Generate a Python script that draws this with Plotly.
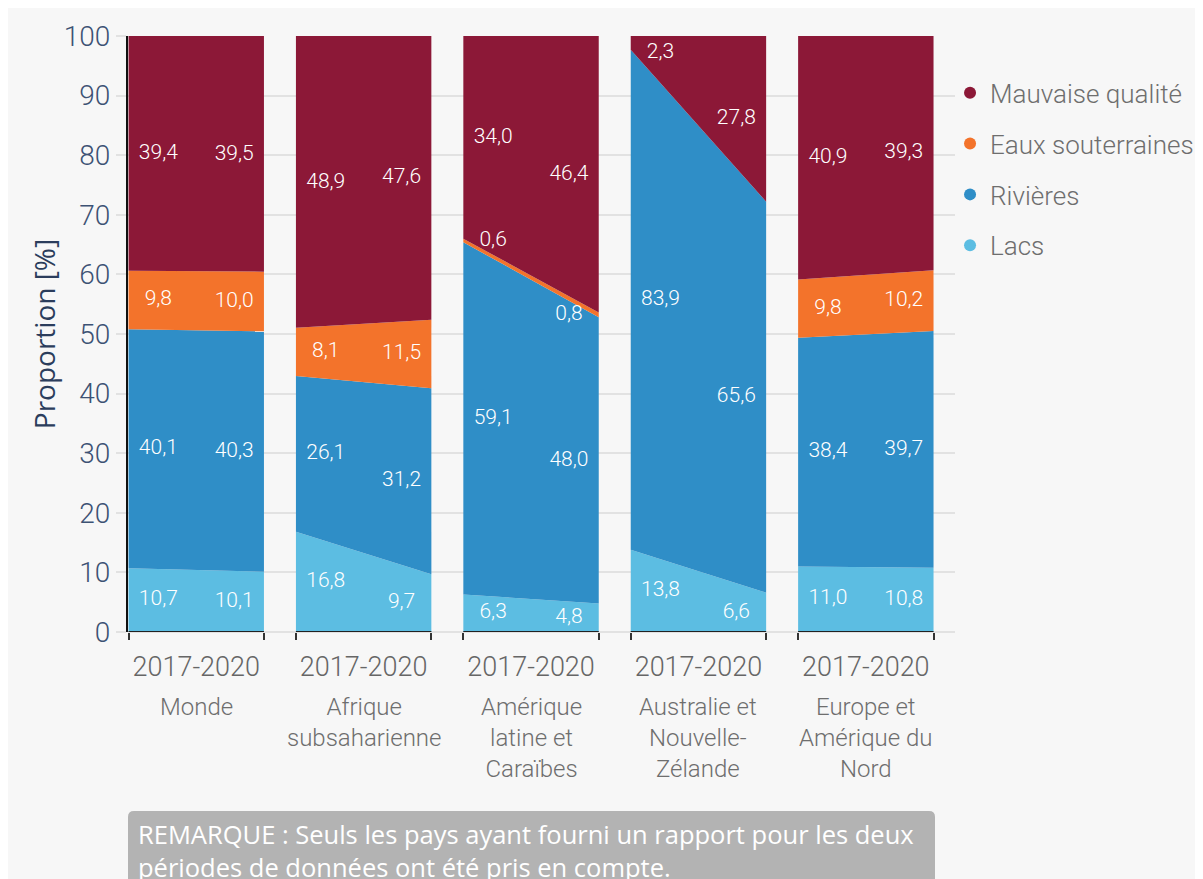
import plotly.graph_objects as go

# ---------------- data ----------------
regions = ["Monde", "Afrique<br>subsaharienne", "Amérique<br>latine et<br>Caraïbes",
           "Australie et<br>Nouvelle-<br>Zélande", "Europe et<br>Amérique du<br>Nord"]
period_label = "2017-2020"
series_names = ["Lacs", "Rivières", "Eaux souterraines", "Mauvaise qualité"]

lacs_start = [10.7, 16.8, 6.3, 13.8, 11.0]
lacs_end = [10.1, 9.7, 4.8, 6.6, 10.8]
rivieres_start = [40.1, 26.1, 59.1, 83.9, 38.4]
rivieres_end = [40.3, 31.2, 48.0, 65.6, 39.7]
eaux_start = [9.8, 8.1, 0.6, 0.0, 9.8]
eaux_end = [10.0, 11.5, 0.8, 0.0, 10.2]
mauvaise_start = [39.4, 48.9, 34.0, 2.3, 40.9]
mauvaise_end = [39.5, 47.6, 46.4, 27.8, 39.3]

y_ticks = [0, 10, 20, 30, 40, 50, 60, 70, 80, 90, 100]
note_text = ("REMARQUE : Seuls les pays ayant fourni un rapport pour les deux<br>"
             "périodes de données ont été pris en compte.")

# ---------------- styling ----------------
colors = {"Lacs": "#5cbde2", "Rivières": "#2f8ec7",
          "Eaux souterraines": "#f3732b", "Mauvaise qualité": "#8c1837"}
FONT = "Roboto, 'Open Sans', sans-serif"
FONT2 = "'Open Sans', Roboto, sans-serif"
BG = "#f7f7f7"

# plot area (in figure pixels; page adds an 8px body margin)
L, T, PW, PH = 120, 25, 827, 599
W, H = 1203, 879

starts = [lacs_start, rivieres_start, eaux_start, mauvaise_start]
ends = [lacs_end, rivieres_end, eaux_end, mauvaise_end]

period = 1.2362          # panel pitch in x-units (panel width = 1)
label_in = 0.22          # label inset from panel edge
lefts = [i * period for i in range(len(regions))]
rights = [l + 1 for l in lefts]
centers = [l + 0.5 for l in lefts]

fig = go.Figure()

# stacked areas, one stack group per region
for i in range(len(regions)):
    for s, name in enumerate(series_names):
        fig.add_trace(go.Scatter(
            x=[lefts[i], rights[i]], y=[starts[s][i], ends[s][i]],
            stackgroup=f"g{i}", groupnorm="percent",
            mode="lines", line=dict(width=0, color=colors[name]),
            fillcolor=colors[name], showlegend=False, hoverinfo="skip"))

# value labels at segment mid-heights
lx, ly, lt = [], [], []
for i in range(len(regions)):
    for vals, xpos in [(starts, lefts[i] + label_in), (ends, rights[i] - label_in)]:
        base = 0.0
        for s in range(len(series_names)):
            v = vals[s][i]
            if v > 0:
                mid = min(base + v / 2.0, 97.2)
                lx.append(xpos)
                ly.append(mid)
                lt.append(f"{v:.1f}".replace(".", ","))
            base += v
fig.add_trace(go.Scatter(x=lx, y=ly, text=lt, mode="text", textposition="middle center",
                         textfont=dict(family=FONT, size=21, color="white", weight=300),
                         showlegend=False, hoverinfo="skip"))

# legend-only entries (top-down order)
for name in reversed(series_names):
    fig.add_trace(go.Scatter(x=[None], y=[None], mode="markers", name=name,
                             legendgroup=name,
                             marker=dict(symbol="circle", size=12, color=colors[name])))

# bottom axis line for each panel
shapes = []
for i in range(len(regions)):
    shapes.append(dict(type="line", xref="x", yref="y", x0=lefts[i], x1=rights[i], y0=0, y1=0,
                       line=dict(color="#222222", width=2), layer="above"))

# note box (rounded rectangle) in paper coords
px0, px1 = 0.0, (935 - 128) / PW
py0, py1 = (632 - 812) / PH, (632 - 900) / PH
rx, ry = 6 / PW, 6 / PH
path = (f"M {px0+rx},{py0} L {px1-rx},{py0} Q {px1},{py0} {px1},{py0-ry} "
        f"L {px1},{py1} L {px0},{py1} L {px0},{py0-ry} Q {px0},{py0} {px0+rx},{py0} Z")
shapes.append(dict(type="path", xref="paper", yref="paper", path=path,
                   fillcolor="#b3b3b3", line=dict(width=0), layer="above"))

annotations = []
for i, r in enumerate(regions):
    annotations.append(dict(x=centers[i], y=0, xref="x", yref="paper", text=r,
                            showarrow=False, xanchor="center", yanchor="top", yshift=-59,
                            align="center",
                            font=dict(family=FONT, size=24, color="#6e6e6e", weight=300)))
annotations.append(dict(x=(136 - 128) / PW, y=-(201 - 17) / PH, xref="paper", yref="paper",
                        text=note_text, showarrow=False, xanchor="left", yanchor="top",
                        align="left", font=dict(family=FONT2, size=25.5, color="white")))

fig.update_layout(
    width=W, height=H,
    margin=dict(l=L, r=W - L - PW, t=T, b=H - T - PH, pad=0),
    paper_bgcolor=BG, plot_bgcolor=BG,
    font=dict(family=FONT),
    showlegend=True,
    legend=dict(x=0.994, y=0.944, xanchor="left", yanchor="top",
                font=dict(family=FONT, size=26, color="#6e6e6e", weight=300),
                traceorder="grouped", tracegroupgap=14, bgcolor="rgba(0,0,0,0)"),
    shapes=shapes, annotations=annotations,
)

fig.update_xaxes(
    range=[-0.004, PW / 135.5], showgrid=False, zeroline=False, showline=False,
    tickmode="array", tickvals=centers, ticktext=[period_label] * len(regions),
    ticks="", ticklabelstandoff=16,
    tickfont=dict(family=FONT, size=27, color="#666666", weight=300),
    minor=dict(tickmode="array", tickvals=lefts + rights, ticks="outside",
               ticklen=7, tickwidth=2, tickcolor="#333333", showgrid=False),
)
fig.update_yaxes(
    range=[0, 100], tickmode="array", tickvals=y_ticks,
    showgrid=True, gridcolor="#e2e2e2", gridwidth=1.5,
    zeroline=True, zerolinecolor="#e2e2e2", zerolinewidth=1.5,
    showline=True, linecolor="#111111", linewidth=2,
    ticks="outside", ticklen=10, tickcolor="#e2e2e2", tickwidth=1.5,
    tickfont=dict(family=FONT, size=28, color="#3d5274", weight=300),
    title=dict(text="Proportion [%]", standoff=0,
               font=dict(family=FONT2, size=28, color="#2b3d5c")),
)

fig.write_html("out.html")
